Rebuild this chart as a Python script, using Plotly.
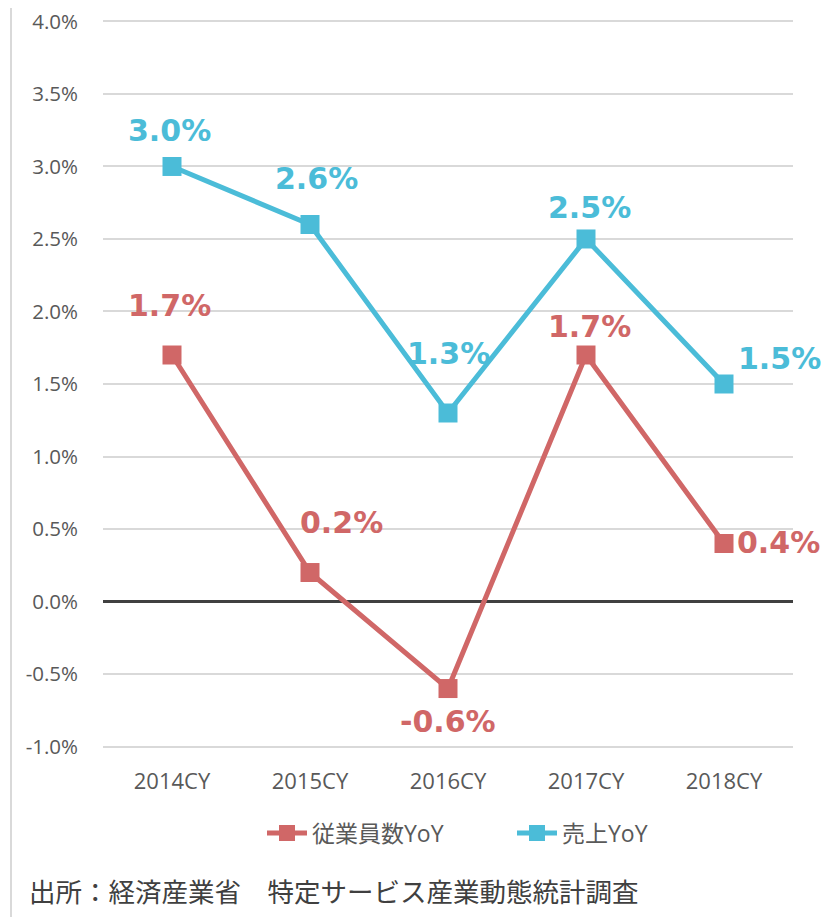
import plotly.graph_objects as go

categories = ["2014CY", "2015CY", "2016CY", "2017CY", "2018CY"]
employees_yoy = [1.7, 0.2, -0.6, 1.7, 0.4]
sales_yoy = [3.0, 2.6, 1.3, 2.5, 1.5]
series_names = ["従業員数YoY", "売上YoY"]
y_ticks = [-1.0, -0.5, 0.0, 0.5, 1.0, 1.5, 2.0, 2.5, 3.0, 3.5, 4.0]
source_text = "出所：経済産業省　特定サービス産業動態統計調査"

RED = "#D06767"
BLUE = "#4BBCD8"

# label offsets in pixels (layout only)
red_label_shift = [(-3, 50), (31, 50), (0, -33), (3, 29), (54, 1)]
blue_label_shift = [(-3, 36), (6, 46), (0, 60), (3, 31), (55, 26)]

# page body has an 8px default margin; figure coordinates are offset by it
OFF = 8
W, H = 829 - OFF, 917 - OFF
L, R, T, B = 103 - OFF, 36, 12, 169
pw, ph = W - L - R, H - T - B


def px_x(ref_x):
    return (ref_x - OFF - L) / pw


def px_y(ref_y):
    return (H - B - (ref_y - OFF)) / ph


fig = go.Figure()
fig.add_trace(go.Scatter(
    x=categories, y=employees_yoy, name=series_names[0], mode="lines+markers",
    line=dict(color=RED, width=5), marker=dict(symbol="square", size=19, color=RED),
))
fig.add_trace(go.Scatter(
    x=categories, y=sales_yoy, name=series_names[1], mode="lines+markers",
    line=dict(color=BLUE, width=5), marker=dict(symbol="square", size=19, color=BLUE),
))

annotations = []
for vals, shifts, col in [(employees_yoy, red_label_shift, RED), (sales_yoy, blue_label_shift, BLUE)]:
    for c, v, (dx, dy) in zip(categories, vals, shifts):
        annotations.append(dict(
            x=c, y=v, xref="x", yref="y", text=f"{v:.1f}%", showarrow=False,
            xshift=dx, yshift=dy, xanchor="center", yanchor="middle",
            font=dict(family="DejaVu Sans", size=30, color=col, weight="bold"),
        ))

annotations.append(dict(
    x=px_x(27), y=px_y(890), xref="paper", yref="paper",
    text=source_text, showarrow=False, xanchor="left", yanchor="middle",
    font=dict(family="Noto Sans CJK JP", size=26.5, color="#404040"),
))

shapes = []
for rx in (11, 827):
    shapes.append(dict(
        type="line", xref="paper", yref="paper",
        x0=px_x(rx), x1=px_x(rx), y0=px_y(930), y1=px_y(-10),
        line=dict(color="#D9D9D9", width=2),
    ))

fig.update_layout(
    width=W, height=H,
    margin=dict(l=L, r=R, t=T, b=B, pad=0, autoexpand=False),
    paper_bgcolor="white", plot_bgcolor="white",
    font=dict(family="Open Sans, Noto Sans CJK JP", color="#595959"),
    showlegend=True,
    legend=dict(
        orientation="h", x=px_x(262), xanchor="left", y=px_y(833), yanchor="middle",
        font=dict(size=23, color="#595959"), itemwidth=40, traceorder="normal",
        entrywidth=195, entrywidthmode="pixels",
    ),
    annotations=annotations,
    shapes=shapes,
    xaxis=dict(
        range=[-0.5, 4.5], showgrid=False, showline=False, zeroline=False,
        tickfont=dict(size=22, color="#595959"), ticks="", ticklabelstandoff=18,
        automargin=False, fixedrange=True,
    ),
    yaxis=dict(
        range=[-1.01, 4.01], tickvals=y_ticks, ticktext=[f"{t:.1f}%" for t in y_ticks],
        showgrid=True, gridcolor="#D9D9D9", gridwidth=2,
        zeroline=True, zerolinecolor="#404040", zerolinewidth=3,
        showline=False, ticks="", tickfont=dict(size=20.5, color="#595959"),
        ticklabelstandoff=24, ticklabeloverflow="allow", automargin=False,
        fixedrange=True,
    ),
)

fig.write_html("out.html")
